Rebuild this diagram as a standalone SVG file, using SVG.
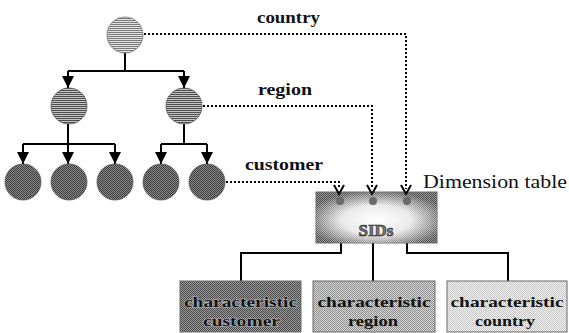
<svg xmlns="http://www.w3.org/2000/svg" width="569" height="333" viewBox="0 0 569 333">
<defs>
<pattern id="hLight" width="2" height="2" patternUnits="userSpaceOnUse"><rect width="2" height="2" fill="#e2e2e2"/><rect width="2" height="1" fill="#7a7a7a"/></pattern>
<pattern id="hMid" width="2" height="2" patternUnits="userSpaceOnUse"><rect width="2" height="2" fill="#c4c4c4"/><rect width="2" height="1" fill="#4e4e4e"/></pattern>
<pattern id="chkDark" width="2" height="2" patternUnits="userSpaceOnUse"><rect width="2" height="2" fill="#8a8a8a"/><rect width="1" height="1" fill="#3c3c3c"/><rect x="1" y="1" width="1" height="1" fill="#3c3c3c"/></pattern>
<pattern id="chkBox1" width="2" height="2" patternUnits="userSpaceOnUse"><rect width="2" height="2" fill="#9a9a9a"/><rect width="1" height="1" fill="#4a4a4a"/><rect x="1" y="1" width="1" height="1" fill="#4a4a4a"/></pattern>
<pattern id="chkBox2" width="2" height="2" patternUnits="userSpaceOnUse"><rect width="2" height="2" fill="#d8d8d8"/><rect width="1" height="1" fill="#8c8c8c"/><rect x="1" y="1" width="1" height="1" fill="#8c8c8c"/></pattern>
<pattern id="chkBox3" width="2" height="2" patternUnits="userSpaceOnUse"><rect width="2" height="2" fill="#f4f4f4"/><rect width="1" height="1" fill="#c4c4c4"/><rect x="1" y="1" width="1" height="1" fill="#c4c4c4"/></pattern>
<radialGradient id="glow" cx="50%" cy="55%" r="58%">
<stop offset="0" stop-color="#fff" stop-opacity="1"/>
<stop offset="0.5" stop-color="#fff" stop-opacity="0.85"/>
<stop offset="1" stop-color="#fff" stop-opacity="0"/>
</radialGradient>
<marker id="tri" viewBox="0 0 12 12" refX="12" refY="6" markerWidth="12" markerHeight="12" markerUnits="userSpaceOnUse" orient="auto"><path d="M0,0 L12,6 L0,12 Z" fill="#000"/></marker>
<style>
.lbl{font-family:"Liberation Serif","Times New Roman",serif;font-weight:bold;font-size:17px;fill:#111}
.bx{font-family:"Liberation Serif","Times New Roman",serif;font-weight:bold;font-size:15px;text-anchor:middle;fill:#111}
.solid{fill:none;stroke:#000;stroke-width:2}
.dot{fill:none;stroke:#000;stroke-width:2;stroke-dasharray:2 2}
.box{stroke:#6a6a6a;stroke-width:1}
.c1{fill:url(#hLight);stroke:#777;stroke-width:0.8}
.c2{fill:url(#hMid);stroke:#555;stroke-width:0.8}
.c3{fill:url(#chkDark);stroke:#555;stroke-width:0.8}
</style>
</defs>
<rect width="569" height="333" fill="#fff"/>

<g id="connectors">
<path class="solid" d="M125 53 V71"/>
<path class="solid" d="M68 71 H184"/>
<path class="solid" d="M68 71 V88" marker-end="url(#tri)"/>
<path class="solid" d="M184 71 V88" marker-end="url(#tri)"/>
<path class="solid" d="M68 124 V144 M23 144 H115"/>
<path class="solid" d="M23 144 V164" marker-end="url(#tri)"/>
<path class="solid" d="M68 144 V164" marker-end="url(#tri)"/>
<path class="solid" d="M115 144 V164" marker-end="url(#tri)"/>
<path class="solid" d="M184 124 V144 M161 144 H207"/>
<path class="solid" d="M161 144 V164" marker-end="url(#tri)"/>
<path class="solid" d="M207 144 V164" marker-end="url(#tri)"/>
<path class="dot" d="M144 34 H406 V189"/>
<path class="dot" d="M203 106 H372 V189"/>
<path class="dot" d="M226 182 H339 V189"/>
<path class="solid" d="M341 204 V253 H241 V281"/>
<path class="solid" d="M373 204 V281"/>
<path class="solid" d="M407 204 V253 H508 V281"/>
</g>

<g id="node-country-root"><circle class="c1" cx="125" cy="35" r="18"/></g>
<g id="node-region-1"><circle class="c2" cx="69" cy="106" r="18"/></g>
<g id="node-region-2"><circle class="c2" cx="184" cy="106" r="18"/></g>
<g id="node-cust-1"><circle class="c3" cx="23" cy="182" r="18"/></g>
<g id="node-cust-2"><circle class="c3" cx="69" cy="182" r="18"/></g>
<g id="node-cust-3"><circle class="c3" cx="115" cy="182" r="18"/></g>
<g id="node-cust-4"><circle class="c3" cx="161" cy="182" r="18"/></g>
<g id="node-cust-5"><circle class="c3" cx="207" cy="182" r="18"/></g>

<g id="labels">
<text class="lbl" x="257" y="23" textLength="63" lengthAdjust="spacingAndGlyphs">country</text>
<text class="lbl" x="258" y="95" textLength="54" lengthAdjust="spacingAndGlyphs">region</text>
<text class="lbl" x="245" y="170" textLength="78" lengthAdjust="spacingAndGlyphs">customer</text>
<text class="lbl" x="423" y="188" style="font-weight:normal;font-size:19px" textLength="144" lengthAdjust="spacingAndGlyphs">Dimension table</text>
</g>

<g id="node-sids">
<rect x="316" y="192" width="121" height="51" fill="url(#chkBox1)" class="box"/>
<rect x="316" y="192" width="121" height="51" fill="url(#glow)"/>
<text x="376" y="236" font-family="Liberation Serif, serif" font-weight="bold" font-size="17" text-anchor="middle" fill="#777" stroke="#222" stroke-width="0.6">SIDs</text>
<g fill="none" stroke="#000" stroke-width="2">
<path d="M334 185 L339 194 L344 185"/>
<path d="M367 185 L372 194 L377 185"/>
<path d="M401 185 L406 194 L411 185"/>
</g>
<g fill="#6a6a6a">
<ellipse cx="340" cy="201" rx="4" ry="4"/>
<ellipse cx="373" cy="201" rx="4" ry="4"/>
<ellipse cx="407" cy="201" rx="4" ry="4"/>
</g>
</g>

<g id="node-char-customer">
<rect class="box" x="180" y="281" width="121" height="51" fill="url(#chkBox1)"/>
<text class="bx" x="240.5" y="307" textLength="113" lengthAdjust="spacingAndGlyphs" stroke="#bbb" stroke-width="1.2" paint-order="stroke" fill="#1a1a1a">characteristic</text>
<text class="bx" x="241.5" y="326" textLength="77" lengthAdjust="spacingAndGlyphs" stroke="#bbb" stroke-width="1.2" paint-order="stroke" fill="#1a1a1a">customer</text>
</g>
<g id="node-char-region">
<rect class="box" x="313" y="281" width="122" height="51" fill="url(#chkBox2)"/>
<text class="bx" x="374" y="307" textLength="113" lengthAdjust="spacingAndGlyphs">characteristic</text>
<text class="bx" x="373" y="326" textLength="50" lengthAdjust="spacingAndGlyphs">region</text>
</g>
<g id="node-char-country">
<rect class="box" x="447" y="281" width="120" height="51" fill="url(#chkBox3)"/>
<text class="bx" x="507" y="307" textLength="113" lengthAdjust="spacingAndGlyphs">characteristic</text>
<text class="bx" x="505" y="326" textLength="60" lengthAdjust="spacingAndGlyphs">country</text>
</g>
</svg>
